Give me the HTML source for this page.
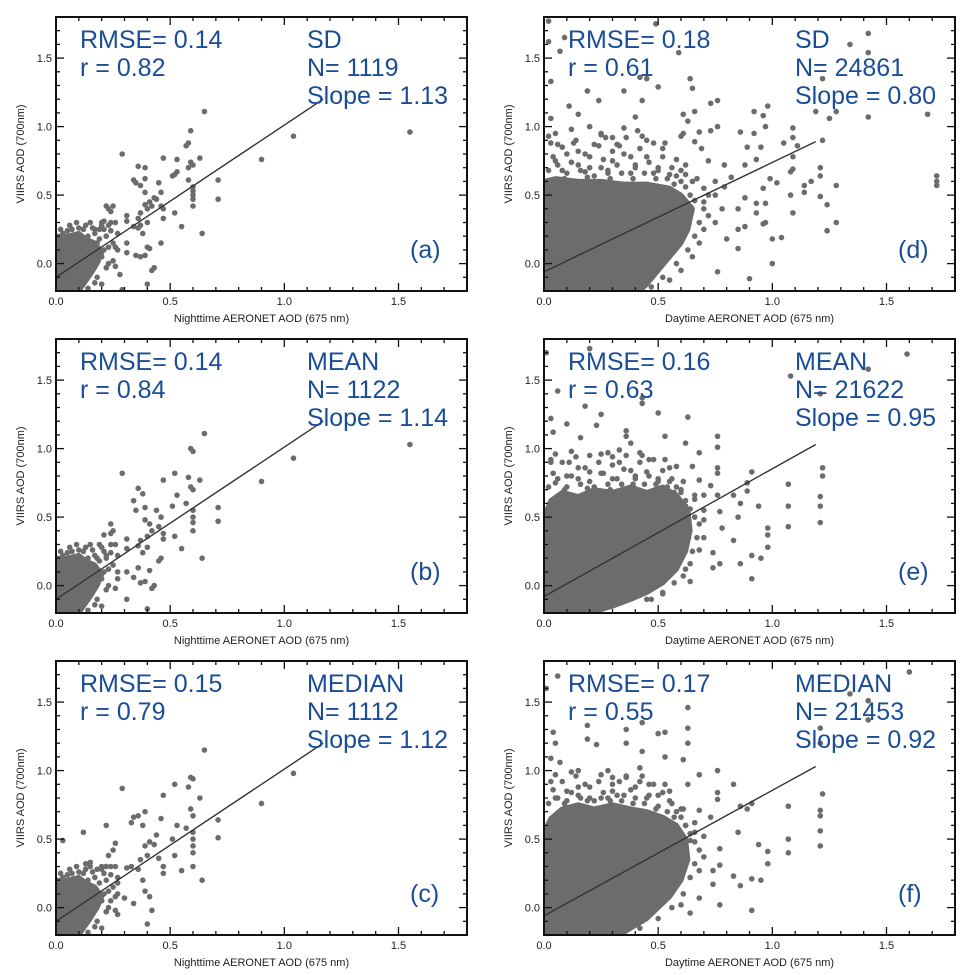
<!DOCTYPE html>
<html><head><meta charset="utf-8"><style>
html,body{margin:0;padding:0;background:#fff;}
svg{display:block;font-family:"Liberation Sans",Arial,sans-serif;}
</style></head><body>
<svg id="fig" width="975" height="975" viewBox="0 0 975 975"></svg>
<script>
// ---- shared axis ticks ----
const xTickVals = [0.0, 0.5, 1.0, 1.5];
const xTickLabels = ["0.0", "0.5", "1.0", "1.5"];
const yTickVals = [0.0, 0.5, 1.0, 1.5];
const yTickLabels = ["0.0", "0.5", "1.0", "1.5"];

// ---- panel (a) ----
const aX = [1.55,1.04,0.9,0.65,0.59,0.58,0.57,0.29,0.47,0.53,0.63,0.59,0.58,0.60,0.71,0.71,0.64,0.55,0.52,0.60,0.60,0.60,0.60,0.60,0.58,0.52,0.51,0.53,0.36,0.39,0.34,0.35,0.37,0.39,0.39,0.45,0.46,0.39,0.41,0.43,0.44,0.46,0.47,0.47,0.42,0.40,0.37,0.36,0.31,0.31,0.34,0.36,0.38,0.37,0.40,0.46,0.40,0.41,0.31,0.31,0.35,0.37,0.39,0.42,0.43,0.40,0.29,0.28,0.25,0.26,0.23,0.21,0.23,0.25,0.22,0.24,0.20,0.19,0.17,0.22,0.18,0.15];
const aY = [0.96,0.93,0.76,1.11,0.97,0.88,0.86,0.80,0.77,0.76,0.77,0.74,0.70,0.72,0.61,0.47,0.22,0.27,0.37,0.42,0.47,0.50,0.53,0.56,0.61,0.65,0.64,0.67,0.71,0.70,0.61,0.59,0.57,0.62,0.52,0.59,0.52,0.43,0.45,0.48,0.47,0.42,0.40,0.33,0.42,0.40,0.37,0.33,0.35,0.31,0.27,0.26,0.22,0.28,0.30,0.15,0.12,0.11,0.15,0.08,0.06,0.05,0.06,-0.05,-0.03,-0.15,-0.19,-0.08,0.02,0.12,0.28,0.31,0.40,0.42,0.42,0.38,0.30,0.25,0.25,0.20,0.15,0.10];
// ---- panel (b) ----
const bX = [0.65,0.59,0.60,1.04,0.90,1.55,0.29,0.47,0.52,0.58,0.63,0.59,0.60,0.71,0.71,0.64,0.55,0.52,0.60,0.60,0.60,0.60,0.57,0.51,0.53,0.36,0.38,0.34,0.35,0.39,0.44,0.46,0.39,0.41,0.45,0.42,0.47,0.46,0.45,0.47,0.40,0.37,0.31,0.36,0.38,0.40,0.31,0.36,0.41,0.31,0.34,0.37,0.39,0.42,0.43,0.40,0.31,0.27,0.25,0.24,0.21,0.24,0.19,0.22,0.18,0.15];
const bY = [1.11,1.00,0.98,0.93,0.76,1.03,0.82,0.77,0.82,0.79,0.77,0.72,0.70,0.57,0.47,0.20,0.27,0.36,0.40,0.46,0.50,0.55,0.60,0.58,0.66,0.71,0.67,0.62,0.55,0.57,0.55,0.50,0.48,0.45,0.43,0.40,0.38,0.20,0.18,0.34,0.36,0.33,0.34,0.29,0.24,0.28,0.27,0.13,0.11,0.10,0.06,0.02,0.03,-0.02,0.00,-0.17,-0.10,0.05,0.40,0.45,0.37,0.38,0.30,0.22,0.20,0.15];
// ---- panel (c) ----
const cX = [0.65,0.59,0.60,1.04,0.90,0.29,0.47,0.52,0.58,0.63,0.59,0.60,0.71,0.71,0.64,0.55,0.52,0.60,0.60,0.60,0.60,0.60,0.57,0.51,0.53,0.36,0.39,0.34,0.33,0.38,0.46,0.44,0.39,0.41,0.43,0.45,0.47,0.47,0.40,0.37,0.31,0.36,0.38,0.33,0.27,0.26,0.24,0.30,0.34,0.39,0.41,0.42,0.40,0.27,0.22,0.26,0.25,0.23,0.20,0.18,0.12,0.03,0.13,0.15,0.22];
const cY = [1.15,0.95,0.94,0.98,0.76,0.87,0.82,0.90,0.88,0.80,0.72,0.67,0.64,0.51,0.20,0.27,0.38,0.30,0.40,0.45,0.50,0.55,0.58,0.50,0.60,0.67,0.70,0.66,0.62,0.60,0.65,0.53,0.45,0.48,0.46,0.36,0.30,0.25,0.38,0.35,0.29,0.28,0.20,0.30,0.18,0.08,0.05,0.07,0.03,0.12,0.08,-0.02,-0.12,-0.05,0.60,0.47,0.42,0.38,0.30,0.28,0.55,0.49,0.32,0.33,0.30];
// night core halo (points around the dense cluster)
const nightHaloX = [0.12,0.15,0.20,0.22,0.17,0.25,0.23,0.20,0.22,0.18,0.20,0.14,0.07,0.03,0.27,0.16,0.24,0.10,0.05,0.26,0.13,0.19,0.21,0.16,0.09,0.24,0.27,0.18,0.14,0.11,0.06,0.02,0.23,0.26,0.21,0.17];
const nightHaloY = [0.25,0.30,0.28,0.20,0.22,0.15,0.12,0.05,-0.03,-0.10,-0.15,-0.18,0.25,0.22,0.22,0.08,0.30,0.26,0.24,-0.02,0.28,0.18,0.10,0.26,0.30,0.24,0.10,0.04,0.20,0.16,0.28,0.25,0.00,0.30,0.25,-0.14];
// night dense core outline
const nightCoreX = [0,0,0.05,0.10,0.13,0.17,0.20,0.18,0.15,0.12,0.10];
const nightCoreY = [-0.2,0.20,0.20,0.22,0.18,0.15,0.08,0.00,-0.08,-0.15,-0.2];

// ---- panel (d) ----
const dX = [1.72,1.72,1.72,1.68,1.42,1.42,1.42,1.34,1.25,1.28,1.22,1.22,1.21,1.21,1.21,1.24,1.28,1.28,1.24,1.19,1.09,1.09,1.11,1.05,1.09,1.08,1.09,1.14,1.14,1.17,1.08,1.09,1.04,1.00,1.00,0.98,0.92,0.97,0.96,0.92,0.86,0.89,0.95,0.93,0.88,0.99,1.02,0.96,0.97,0.93,0.88,0.85,0.93,0.97,0.96,0.88,0.85,0.80,0.85,0.90,0.76,0.76,0.73,0.76,0.73,0.68,0.61,0.60,0.63,0.61,0.66,0.64,0.65,0.59,0.50,0.49,0.45,0.43,0.40,0.35,0.24,0.19,0.15,0.11,0.03,0.02,0.02,0.09,0.07,0.03,0.02,0.42,0.20,0.27,0.35,0.41,0.45,0.52,0.58,0.66,0.69,0.72,0.79,0.82,0.79,0.13,0.06,0.22,0.32,0.25,0.05,0.10,0.15,0.20,0.25,0.30,0.35,0.40,0.45,0.50,0.55,0.60,0.65,0.70,0.70,0.75,0.72,0.70,0.68,0.65,0.60,0.55,0.62,0.08,0.18,0.28,0.38,0.48,0.75,0.78,0.75];
const dY = [0.64,0.60,0.57,1.09,1.68,1.54,1.07,1.60,1.06,1.11,1.35,0.90,0.70,0.64,0.49,0.43,0.57,0.30,0.24,1.11,0.99,0.92,0.86,0.88,0.78,0.67,0.69,0.57,0.52,0.60,0.50,0.37,0.19,0.18,0.00,1.15,1.11,1.00,1.08,0.95,0.96,0.85,0.85,0.76,0.72,0.62,0.59,0.55,0.44,0.44,0.48,0.40,0.37,0.30,0.29,0.27,0.25,0.18,0.11,-0.11,-0.06,1.19,1.17,1.00,0.97,0.96,0.95,0.93,1.04,1.09,1.11,1.35,1.28,1.54,1.29,1.75,1.35,1.19,1.07,1.26,1.19,1.26,1.09,1.15,1.33,1.62,1.77,1.65,1.55,1.06,0.93,1.36,1.00,0.92,0.99,0.97,0.90,0.84,0.76,0.89,0.84,0.75,0.72,0.63,0.56,0.88,0.87,0.87,0.87,0.94,0.75,0.80,0.72,0.78,0.70,0.75,0.80,0.72,0.78,0.70,0.65,0.68,0.60,0.55,0.45,0.50,0.35,0.25,0.15,0.05,-0.05,-0.12,0.65,0.68,0.67,0.66,0.66,0.66,0.60,0.40,0.30];
const dFringeX = [0.02,0.04,0.06,0.08,0.10,0.12,0.14,0.16,0.18,0.20,0.22,0.24,0.26,0.28,0.30,0.32,0.34,0.36,0.38,0.40,0.42,0.44,0.46,0.48,0.50,0.52,0.54,0.56,0.58,0.60,0.62,0.64,0.66,0.68,0.66,0.63,0.58,0.52,0.47,0.05,0.12,0.25,0.30,0.09,0.19,0.29,0.39,0.49,0.57,0.03,0.15,0.33,0.43,0.53,0.70,0.72,0.67,0.62];
const dFringeY = [0.68,0.78,0.72,0.85,0.66,0.74,0.90,0.68,0.80,0.70,0.64,0.86,0.76,0.68,0.82,0.72,0.66,0.92,0.78,0.70,0.84,0.66,0.74,0.88,0.68,0.78,0.62,0.70,0.64,0.60,0.56,0.50,0.46,0.30,0.20,0.10,0.00,-0.10,-0.17,0.95,0.98,0.95,0.92,0.62,0.63,0.62,0.62,0.62,0.58,0.88,0.82,0.86,0.93,0.88,0.40,0.50,0.62,0.72];
const dCoreX = [0,0,0.05,0.15,0.25,0.35,0.45,0.55,0.60,0.65,0.63,0.60,0.55,0.50,0.45,0.42];
const dCoreY = [-0.2,0.60,0.62,0.60,0.60,0.58,0.58,0.55,0.50,0.40,0.25,0.15,0.05,-0.05,-0.15,-0.2];

// ---- panel (e) ----
const eX = [1.59,1.42,1.08,1.21,1.22,1.22,1.21,1.21,1.21,1.07,1.07,1.07,0.98,0.98,0.98,0.94,0.95,0.91,0.89,0.89,0.91,0.91,0.86,0.85,0.86,0.83,0.83,0.76,0.76,0.76,0.76,0.76,0.77,0.78,0.77,0.74,0.74,0.73,0.68,0.63,0.62,0.53,0.50,0.43,0.43,0.36,0.36,0.25,0.23,0.18,0.16,0.10,0.03,0.04,0.06,0.01,0.20,0.03,0.11,0.20,0.28,0.33,0.38,0.42,0.46,0.55,0.58,0.65,0.68,0.70,0.66,0.70,0.70,0.68,0.64,0.64,0.61,0.52,0.47,0.05,0.10,0.15,0.20,0.25,0.30,0.35,0.40,0.45,0.50,0.55,0.60,0.62];
const eY = [1.69,1.58,1.53,1.40,0.86,0.80,0.65,0.58,0.46,0.74,0.58,0.43,0.42,0.37,0.28,0.58,0.20,0.83,0.75,0.69,0.22,0.05,0.60,0.50,0.16,0.33,0.66,1.09,1.01,0.86,0.82,0.66,0.54,0.42,0.16,0.24,0.13,0.73,0.97,1.23,1.04,1.09,1.26,1.33,1.37,1.09,1.13,1.25,1.17,1.31,1.08,1.18,1.22,1.12,1.42,1.70,1.73,0.92,0.90,0.95,0.97,0.99,1.04,0.97,0.92,0.86,0.87,0.87,0.77,0.66,0.63,0.48,0.35,0.26,0.16,0.03,0.07,-0.06,-0.10,0.75,0.80,0.78,0.83,0.82,0.78,0.85,0.80,0.83,0.78,0.76,0.70,0.58];
const eFringeX = [0.02,0.04,0.06,0.08,0.10,0.12,0.14,0.16,0.18,0.20,0.22,0.24,0.26,0.28,0.30,0.32,0.34,0.36,0.38,0.40,0.42,0.44,0.46,0.48,0.50,0.52,0.54,0.56,0.58,0.60,0.62,0.64,0.66,0.67,0.65,0.62,0.57,0.52,0.45,0.05,0.12,0.25,0.30,0.09,0.19,0.29,0.39,0.49,0.57,0.03,0.15,0.33,0.43,0.53,0.68,0.70,0.66,0.61];
const eFringeY = [0.72,0.82,0.78,0.90,0.72,0.80,0.94,0.74,0.86,0.76,0.72,0.90,0.82,0.74,0.88,0.78,0.74,0.95,0.84,0.78,0.90,0.74,0.80,0.92,0.76,0.84,0.72,0.78,0.72,0.68,0.62,0.56,0.50,0.35,0.25,0.12,0.02,-0.05,-0.10,0.96,0.98,0.96,0.94,0.70,0.71,0.70,0.74,0.74,0.68,0.90,0.86,0.90,0.95,0.92,0.45,0.55,0.66,0.76];
const eCoreX = [0,0,0.03,0.08,0.15,0.22,0.30,0.38,0.45,0.52,0.58,0.63,0.64,0.62,0.58,0.52,0.45,0.38,0.30,0.20];
const eCoreY = [-0.2,0.50,0.62,0.68,0.65,0.70,0.68,0.72,0.68,0.72,0.66,0.55,0.40,0.25,0.12,0.02,-0.05,-0.10,-0.15,-0.2];

// ---- panel (f) ----
const fX = [1.60,1.34,1.42,1.42,1.21,1.21,1.22,1.21,1.21,1.21,1.21,1.07,1.07,1.07,0.98,0.98,0.94,0.95,0.91,0.89,0.91,0.91,0.86,0.85,0.86,0.83,0.83,0.76,0.76,0.76,0.77,0.77,0.77,0.74,0.74,0.73,0.68,0.63,0.63,0.63,0.61,0.53,0.53,0.50,0.43,0.43,0.36,0.36,0.23,0.19,0.19,0.06,0.01,0.04,0.05,0.03,0.07,0.15,0.28,0.36,0.42,0.46,0.55,0.63,0.68,0.64,0.70,0.68,0.64,0.68,0.60,0.05,0.10,0.15,0.20,0.25,0.30,0.35,0.40,0.45,0.50,0.55,0.60,0.62,0.66];
const fY = [1.72,1.56,1.51,1.37,1.31,1.20,0.83,0.71,0.67,0.56,0.45,0.74,0.50,0.40,0.41,0.32,0.46,0.20,0.76,0.72,0.21,-0.02,0.74,0.55,0.16,0.23,0.90,1.00,0.84,0.79,0.43,0.31,0.02,0.27,0.17,0.66,0.97,1.46,1.31,1.20,1.08,1.10,1.28,1.27,1.35,1.14,1.30,1.20,1.19,1.33,1.23,1.69,1.60,1.28,1.20,1.09,1.06,1.00,1.00,0.95,1.02,0.90,0.85,0.90,0.71,0.49,0.37,0.27,-0.04,0.07,0.02,0.80,0.85,0.82,0.88,0.80,0.85,0.82,0.88,0.80,0.82,0.78,0.72,0.60,0.55];
const fFringeX = [0.02,0.04,0.06,0.08,0.10,0.12,0.14,0.16,0.18,0.20,0.22,0.24,0.26,0.28,0.30,0.32,0.34,0.36,0.38,0.40,0.42,0.44,0.46,0.48,0.50,0.52,0.54,0.56,0.58,0.60,0.62,0.64,0.66,0.66,0.64,0.61,0.56,0.50,0.42,0.05,0.12,0.25,0.30,0.09,0.19,0.29,0.39,0.49,0.57,0.03,0.15,0.33,0.43,0.53,0.68,0.70,0.66,0.61];
const fFringeY = [0.76,0.86,0.80,0.92,0.78,0.84,0.96,0.80,0.90,0.80,0.78,0.92,0.84,0.80,0.90,0.82,0.78,0.96,0.86,0.80,0.92,0.76,0.82,0.90,0.74,0.84,0.70,0.76,0.70,0.66,0.60,0.54,0.48,0.32,0.22,0.10,0.00,-0.08,-0.15,0.97,0.99,0.97,0.95,0.76,0.78,0.78,0.76,0.72,0.66,0.92,0.88,0.92,0.96,0.90,0.42,0.52,0.62,0.72];
const fCoreX = [0,0,0.03,0.08,0.15,0.22,0.30,0.38,0.45,0.52,0.58,0.62,0.63,0.60,0.55,0.50,0.45,0.38,0.33];
const fCoreY = [-0.2,0.55,0.65,0.72,0.75,0.72,0.75,0.72,0.70,0.66,0.60,0.50,0.35,0.20,0.08,0.00,-0.08,-0.15,-0.2];

// ---- fit lines and stats ----
const fitX0 = [0,0,0,0,0,0];
const fitX1 = [1.17,1.17,1.17,1.19,1.19,1.19];
const fitY0 = [-0.10,-0.10,-0.10,-0.06,-0.08,-0.06];
const fitY1 = [1.20,1.20,1.20,0.89,1.03,1.03];
const rmseText = ["RMSE= 0.14","RMSE= 0.14","RMSE= 0.15","RMSE= 0.18","RMSE= 0.16","RMSE= 0.17"];
const rText = ["r = 0.82","r = 0.84","r = 0.79","r = 0.61","r = 0.63","r = 0.55"];
const methodText = ["SD","MEAN","MEDIAN","SD","MEAN","MEDIAN"];
const nText = ["N= 1119","N= 1122","N= 1112","N= 24861","N= 21622","N= 21453"];
const slopeText = ["Slope = 1.13","Slope = 1.14","Slope = 1.12","Slope = 0.80","Slope = 0.95","Slope = 0.92"];
const panelLetters = ["(a)","(b)","(c)","(d)","(e)","(f)"];
const xTitles = ["Nighttime AERONET AOD (675 nm)","Nighttime AERONET AOD (675 nm)","Nighttime AERONET AOD (675 nm)","Daytime AERONET AOD (675 nm)","Daytime AERONET AOD (675 nm)","Daytime AERONET AOD (675 nm)"];

const NS = "http://www.w3.org/2000/svg";
const svg = document.getElementById("fig");
const XMIN = 0, XMAX = 1.8, YMIN = -0.2, YMAX = 1.8;
const W = 411, H = 274;
const DOT = "#6c6c6c", BLUE = "#1a4d96";

function mk(tag, attrs, parent) {
  const e = document.createElementNS(NS, tag);
  for (const k in attrs) e.setAttribute(k, attrs[k]);
  parent.appendChild(e);
  return e;
}

const panels = [
  {L:56, T:17, px:[aX,nightHaloX], py:[aY,nightHaloY], cx:nightCoreX, cy:nightCoreY},
  {L:56, T:339, px:[bX,nightHaloX], py:[bY,nightHaloY], cx:nightCoreX, cy:nightCoreY},
  {L:56, T:661, px:[cX,nightHaloX], py:[cY,nightHaloY], cx:nightCoreX, cy:nightCoreY},
  {L:544, T:17, px:[dX,dFringeX], py:[dY,dFringeY], cx:dCoreX, cy:dCoreY},
  {L:544, T:339, px:[eX,eFringeX], py:[eY,eFringeY], cx:eCoreX, cy:eCoreY},
  {L:544, T:661, px:[fX,fFringeX], py:[fY,fFringeY], cx:fCoreX, cy:fCoreY}
];

panels.forEach((p, i) => {
  const sx = v => p.L + (v - XMIN) / (XMAX - XMIN) * W;
  const sy = v => p.T + H - (v - YMIN) / (YMAX - YMIN) * H;
  const g = mk("g", {}, svg);
  
  
  const clipId = "clip" + i;
  const cp = mk("clipPath", {id: clipId}, g);
  mk("rect", {x: p.L, y: p.T, width: W, height: H}, cp);
  const pts = mk("g", {"clip-path": "url(#" + clipId + ")"}, g);
  
  
  const poly = mk("polygon", {points: p.cx.map((x, k) => sx(x) + "," + sy(p.cy[k])).join(" "), fill: DOT, stroke: DOT, "stroke-width": 5, "stroke-linejoin": "round"}, pts);
  
  
  p.px.forEach((arrX, s) => {
    const arrY = p.py[s];
    arrX.forEach((x, k) => {
      const c = mk("circle", {cx: sx(x), cy: sy(arrY[k]), r: 2.8, fill: DOT}, pts);
      
      
    });
  });
  const ln = mk("line", {x1: sx(fitX0[i]), y1: sy(fitY0[i]), x2: sx(fitX1[i]), y2: sy(fitY1[i]), stroke: "#333", "stroke-width": 1.4}, g);
  
  
  const tk = mk("g", {stroke: "#111", "stroke-width": 1.3}, g);
  
  
  for (let m = 0; m <= 18; m++) {
    const v = m / 10; const x = sx(v); const len = (m % 5 === 0) ? 8 : 4;
    mk("line", {x1: x, y1: p.T + H, x2: x, y2: p.T + H - len}, tk);
    mk("line", {x1: x, y1: p.T, x2: x, y2: p.T + len}, tk);
  }
  for (let m = -2; m <= 18; m++) {
    const v = m / 10; const y = sy(v); const len = (m % 5 === 0) ? 8 : 4;
    mk("line", {x1: p.L, y1: y, x2: p.L + len, y2: y}, tk);
    mk("line", {x1: p.L + W, y1: y, x2: p.L + W - len, y2: y}, tk);
  }
  const fr = mk("rect", {x: p.L, y: p.T, width: W, height: H, fill: "none", stroke: "#111", "stroke-width": 2}, g);
  
  
  xTickVals.forEach((v, k) => {
    const t = mk("text", {x: sx(v), y: p.T + H + 14, "text-anchor": "middle", "font-size": 11, fill: "#222"}, g);
    t.textContent = xTickLabels[k];
    
    
  });
  yTickVals.forEach((v, k) => {
    const t = mk("text", {x: p.L - 4, y: sy(v) + 4, "text-anchor": "end", "font-size": 11, fill: "#222"}, g);
    t.textContent = yTickLabels[k];
    
    
  });
  const xt = mk("text", {x: p.L + W / 2, y: p.T + H + 31, "text-anchor": "middle", "font-size": 11, fill: "#222"}, g);
  xt.textContent = xTitles[i];
  
  
  const yc = p.T + H / 2;
  const yt = mk("text", {x: p.L - 32, y: yc, "text-anchor": "middle", "font-size": 11, fill: "#222", transform: "rotate(-90 " + (p.L - 32) + " " + yc + ")"}, g);
  yt.textContent = "VIIRS AOD (700nm)";
  
  
  const stats = [[rmseText[i], 24, 31, 'rmse-label'], [rText[i], 24, 59, 'r-label'], [methodText[i], 251, 31, 'method-label'], [nText[i], 251, 59, 'n-label'], [slopeText[i], 251, 87, 'slope-label'], [panelLetters[i], 354, 241, 'panel-letter']];
  stats.forEach(s => {
    const t = mk("text", {x: p.L + s[1], y: p.T + s[2], "font-size": 25, fill: BLUE}, g);
    t.textContent = s[0];
    
    
  });
});
</script>
</body></html>
